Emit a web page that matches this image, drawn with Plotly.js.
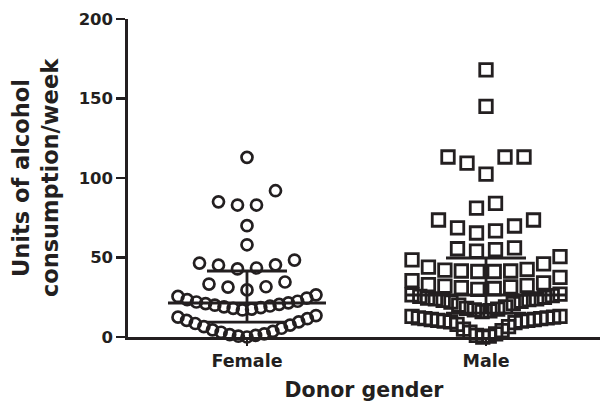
<!DOCTYPE html>
<html>
<head>
<meta charset="utf-8">
<script src="https://cdn.plot.ly/plotly-3.0.1.min.js"></script>
<style>html,body{margin:0;padding:0;background:#fff;}#chart{width:601px;height:408px;}</style>
</head>
<body>
<div id="chart"></div>
<script>
// ---- data ----
const categories = ['Female', 'Male'];
const femaleUnits = [
  0, 0.5, 1, 1.5, 2, 3, 3.5, 4.5, 5.5, 6.5, 7.5, 8.5, 9.5, 10.5, 11.5, 12.5, 13.5,
  17, 17.5, 18, 18.5, 19, 19.5, 20, 20.5, 21, 21.5, 22, 22.5, 23.5, 24.5, 25.5, 26.5,
  29.6, 31.4, 31.6, 33.3, 34.6,
  42.8, 43.4, 45.2, 45.4, 46.5, 48.4,
  58, 70, 83, 83, 85, 92, 113
];
const maleUnits = [
  0, 0.5, 1, 2, 3, 4, 5, 6.5, 8, 9, 9.5, 10, 10, 10.5, 10.5, 11, 11, 11.5, 11.5, 12, 12, 12.5, 13, 13,
  16, 16.5, 17, 17.5, 18, 19, 20, 21, 22, 22.5, 23, 23.5, 24, 24, 24.5, 25, 25.5, 26, 26.5, 27,
  30, 30.5, 31, 31.5, 32, 32.5, 33, 34, 35.5, 37.5,
  41.2, 41.2, 41.5, 41.5, 42, 42.5, 44, 46, 48.5, 50.5,
  54, 55, 55.5, 56,
  65.4, 66.7, 68.6, 69.8, 73.6, 73.6,
  81, 84,
  102.5, 109.4, 113.2, 113.2, 113.2,
  145, 168
];
const medians = [21.4, 26.4];
const lowerQuartiles = [9.4, 15.0];
const upperQuartiles = [41.5, 49.7];
const yTicks = [0, 50, 100, 150, 200];

// ---- layout constants ----
const W = 601, H = 408;
const margin = {l: 128, r: 1, t: 19, b: 71};
const xRange = [-0.4978, 1.4769];
const pxPerX = (W - margin.l - margin.r) / (xRange[1] - xRange[0]);
const ink = '#231f20';
const FONT = 'DejaVu Sans, Liberation Sans, Arial, sans-serif';

// Prism-like scatter-dot layout: group close values in rows, spread centre-out
function swarm(vals, cx, maxW) {
  const s = vals.slice().sort((a, b) => a - b);
  const rows = []; let cur = [];
  s.forEach(v => {
    if (cur.length && (v - cur[cur.length - 1] > 2.2) && (v - cur[0] > 11)) { rows.push(cur); cur = []; }
    cur.push(v);
  });
  if (cur.length) rows.push(cur);
  const xs = [], ys = [];
  rows.forEach(r => {
    const n = r.length;
    const sp = n > 1 ? Math.min(19, maxW / (n - 1)) : 0;
    r.forEach((v, i) => {
      let k;
      if (n % 2) k = i === 0 ? 0 : Math.ceil(i / 2) * (i % 2 ? -1 : 1);
      else k = (Math.floor(i / 2) + 0.5) * (i % 2 ? 1 : -1);
      xs.push(cx + k * sp / pxPerX); ys.push(v);
    });
  });
  return {xs, ys};
}

const f = swarm(femaleUnits, 0, 138);
const m = swarm(maleUnits, 1, 148);

const halfLine = 79 / pxPerX;
const medX = [], medY = [];
medians.forEach((md, i) => { medX.push(i - halfLine, i + halfLine, null); medY.push(md, md, null); });

const traces = [
  {x: f.xs, y: f.ys, type: 'scatter', mode: 'markers', cliponaxis: false, hoverinfo: 'y',
   marker: {symbol: 'circle-open', size: 11, color: ink, line: {width: 2.7, color: ink}}},
  {x: m.xs, y: m.ys, type: 'scatter', mode: 'markers', cliponaxis: false, hoverinfo: 'y',
   marker: {symbol: 'square-open', size: 12.5, color: ink, line: {width: 2.8, color: ink}}},
  {x: [0, 1], y: medians, type: 'scatter', mode: 'markers', cliponaxis: false,
   marker: {size: 1, color: ink},
   error_y: {type: 'data', symmetric: false,
     array: upperQuartiles.map((u, i) => u - medians[i]),
     arrayminus: lowerQuartiles.map((q, i) => medians[i] - q),
     width: 40, thickness: 2.8, color: ink}},
  {x: medX, y: medY, type: 'scatter', mode: 'lines', cliponaxis: false,
   line: {color: ink, width: 3}}
];

const layout = {
  width: W, height: H, margin: margin, showlegend: false,
  paper_bgcolor: '#fff', plot_bgcolor: '#fff',
  font: {family: FONT, color: ink, weight: 'bold'},
  xaxis: {
    range: xRange, tickvals: [0, 1], ticktext: categories,
    showline: true, linecolor: ink, linewidth: 2.6, showgrid: false, zeroline: false,
    ticks: 'outside', ticklen: 6, tickwidth: 2.6, tickcolor: ink,
    tickfont: {family: FONT, size: 17.5, color: ink, weight: 'bold'},
    title: {text: 'Donor gender', font: {family: FONT, size: 20.5, color: ink, weight: 'bold'}, standoff: 13}
  },
  yaxis: {
    range: [0, 200], tickvals: yTicks, ticktext: yTicks.map(String),
    showline: true, linecolor: ink, linewidth: 2.6, showgrid: false, zeroline: false,
    ticks: 'outside', ticklen: 9, tickwidth: 2.6, tickcolor: ink,
    tickfont: {family: FONT, size: 16.5, color: ink, weight: 'bold'},
    title: {text: 'Units of alcohol<br>consumption/week', font: {family: FONT, size: 22.5, color: ink, weight: 'bold'}, standoff: 14}
  }
};

Plotly.newPlot('chart', traces, layout, {staticPlot: true, displayModeBar: false});
</script>
</body>
</html>
